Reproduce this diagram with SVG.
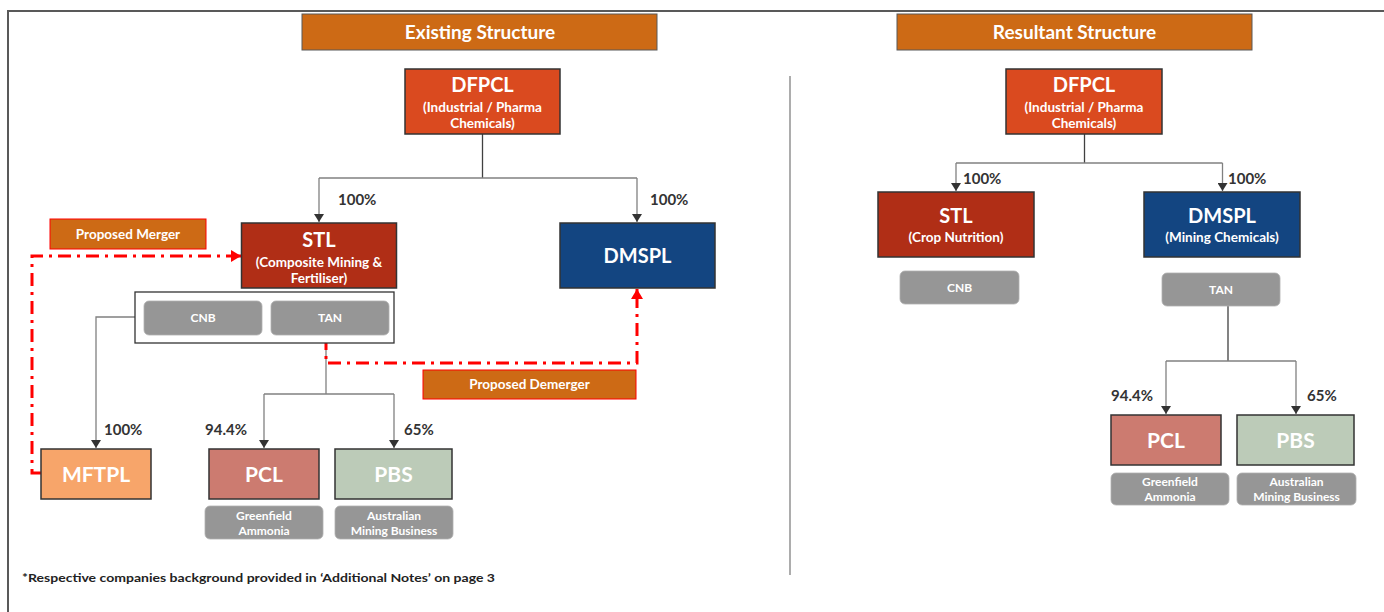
<svg xmlns="http://www.w3.org/2000/svg" width="1384" height="612" viewBox="0 0 1384 612">
<defs>
<style>
text{font-family:Lato,"Open Sans","Liberation Sans",sans-serif;font-weight:700}
.w{fill:#fff;text-anchor:middle}
.hdr{fill:#CD6A15;stroke:#595959;stroke-width:1}
.box{stroke:#333;stroke-width:1.5}
.gray{fill:#969696;stroke:#b0b0b0;stroke-width:0.8}
.pct{fill:#333;font-size:15px}
.ln{fill:none;stroke:#808080;stroke-width:1.3}
.dk{fill:none;stroke:#404040;stroke-width:1.3}
.red{fill:none;stroke:#FF0000;stroke-width:3;stroke-dasharray:13 6 3 6}
.tag{fill:#CD6A15;stroke:#FF0000;stroke-width:1}
.sub{font-size:13.5px}
.sm{font-size:12px}
</style>
<marker id="ah" markerWidth="8" markerHeight="10" refX="8" refY="5" orient="auto" markerUnits="userSpaceOnUse"><path d="M0,0 L8,5 L0,10 Z" fill="#333"/></marker>
<marker id="rah" markerWidth="10" markerHeight="12" refX="10" refY="6" orient="auto" markerUnits="userSpaceOnUse"><path d="M0,0 L10,6 L0,12 Z" fill="#FF0000"/></marker>
</defs>
<rect width="1384" height="612" fill="#fff"/>
<path d="M8,612 V11 H1384" fill="none" stroke="#595959" stroke-width="2"/>
<line x1="790" y1="76" x2="790" y2="575" stroke="#808080" stroke-width="1.3"/>

<g id="hdr-existing"><rect class="hdr" x="302" y="14" width="355" height="36"/><text class="w" x="480" y="39" font-size="19">Existing Structure</text></g>
<g id="hdr-resultant"><rect class="hdr" x="897" y="14" width="355" height="36"/><text class="w" x="1074.5" y="39" font-size="19">Resultant Structure</text></g>

<g id="connectors">
<path class="dk" d="M482.5,134 V178"/>
<path class="ln" d="M319,178 H637"/>
<path class="ln" d="M319,178 V222" marker-end="url(#ah)"/>
<path class="ln" d="M637,178 V222" marker-end="url(#ah)"/>
<path class="ln" d="M135,317 H96 V448" marker-end="url(#ah)"/>
<path class="ln" d="M326,343 V394"/>
<path class="ln" d="M264,394 H394"/>
<path class="ln" d="M264,394 V448" marker-end="url(#ah)"/>
<path class="ln" d="M394,394 V448" marker-end="url(#ah)"/>
<path class="red" d="M41,473 H32 V256 H230"/>
<path d="M230,256 H241" stroke="#FF0000" stroke-width="3" marker-end="url(#rah)"/>
<path class="red" d="M326,337 V363 H637 V300"/>
<path d="M637,300 V289" stroke="#FF0000" stroke-width="3" marker-end="url(#rah)"/>
<path class="dk" d="M1084.5,134 V163"/>
<path class="ln" d="M956,163 H1222.5"/>
<path class="ln" d="M956,163 V191" marker-end="url(#ah)"/>
<path class="ln" d="M1222.5,163 V191" marker-end="url(#ah)"/>
<path class="dk" d="M1228,306 V361"/>
<path class="ln" d="M1166,361 H1296"/>
<path class="ln" d="M1166,361 V414" marker-end="url(#ah)"/>
<path class="ln" d="M1296,361 V414" marker-end="url(#ah)"/>
</g>

<g id="pct-labels">
<text class="pct" x="338" y="205">100%</text>
<text class="pct" x="650" y="205">100%</text>
<text class="pct" x="104" y="435">100%</text>
<text class="pct" x="205" y="435">94.4%</text>
<text class="pct" x="404" y="435">65%</text>
<text class="pct" x="963" y="184">100%</text>
<text class="pct" x="1228" y="184">100%</text>
<text class="pct" x="1111" y="401">94.4%</text>
<text class="pct" x="1307" y="401">65%</text>
</g>

<g id="dfpcl-existing"><rect class="box" x="405" y="69" width="155" height="65" fill="#DA4A1F"/>
<text class="w" x="482.5" y="92" font-size="20">DFPCL</text>
<text class="w sub" x="482.5" y="112">(Industrial / Pharma</text>
<text class="w sub" x="482.5" y="128">Chemicals)</text></g>

<g id="stl-existing"><rect class="box" x="241.5" y="223" width="155" height="65" fill="#B02E16"/>
<text class="w" x="319" y="247" font-size="20">STL</text>
<text class="w sub" x="319" y="266.5">(Composite Mining &amp;</text>
<text class="w sub" x="319" y="282.5">Fertiliser)</text></g>

<g id="dmspl-existing"><rect class="box" x="560" y="223" width="155" height="65" fill="#134581"/>
<text class="w" x="637.5" y="263" font-size="20">DMSPL</text></g>

<g id="proposed-merger"><rect class="tag" x="50" y="219" width="156" height="30"/><text class="w sub" x="128" y="238.5">Proposed Merger</text></g>
<g id="proposed-demerger"><rect class="tag" x="423" y="370" width="213" height="29"/><text class="w sub" x="529.5" y="389">Proposed Demerger</text></g>

<g id="cnb-tan-existing"><rect x="135" y="292" width="259" height="51" fill="#fff" stroke="#333" stroke-width="1.3"/>
<g id="cnb-existing"><rect class="gray" x="144" y="301" width="118" height="34" rx="5"/><text class="w sm" x="203" y="322">CNB</text></g>
<g id="tan-existing"><rect class="gray" x="271" y="301" width="118" height="34" rx="5"/><text class="w sm" x="330" y="322">TAN</text></g></g>

<g id="mftpl"><rect class="box" x="41" y="449" width="110" height="50" fill="#F7A56A"/><text class="w" x="96" y="482" font-size="21">MFTPL</text></g>
<g id="pcl-existing"><rect class="box" x="209" y="449" width="110" height="50" fill="#CC7B70"/><text class="w" x="264" y="482" font-size="21">PCL</text></g>
<g id="pbs-existing"><rect class="box" x="335" y="449" width="117" height="50" fill="#BCCBB8"/><text class="w" x="393.5" y="482" font-size="21">PBS</text></g>
<g id="greenfield-existing"><rect class="gray" x="205" y="506" width="118" height="33" rx="5"/><text class="w sm" x="264" y="519.5">Greenfield</text><text class="w sm" x="264" y="535">Ammonia</text></g>
<g id="australian-existing"><rect class="gray" x="335" y="506" width="118" height="33" rx="5"/><text class="w sm" x="394" y="519.5">Australian</text><text class="w sm" x="394" y="535">Mining Business</text></g>

<text x="22" y="582" font-size="12" fill="#222" textLength="473" lengthAdjust="spacingAndGlyphs">*Respective companies background provided in ‘Additional Notes’ on page 3</text>

<g id="dfpcl-resultant"><rect class="box" x="1006" y="69" width="156" height="65" fill="#DA4A1F"/>
<text class="w" x="1084" y="92" font-size="20">DFPCL</text>
<text class="w sub" x="1084" y="112">(Industrial / Pharma</text>
<text class="w sub" x="1084" y="128">Chemicals)</text></g>
<g id="stl-resultant"><rect class="box" x="878" y="192" width="156" height="65" fill="#B02E16"/>
<text class="w" x="956" y="223" font-size="20">STL</text>
<text class="w sub" x="956" y="242">(Crop Nutrition)</text></g>
<g id="dmspl-resultant"><rect class="box" x="1144" y="192" width="156" height="65" fill="#134581"/>
<text class="w" x="1222" y="223" font-size="20">DMSPL</text>
<text class="w sub" x="1222" y="242">(Mining Chemicals)</text></g>
<g id="cnb-resultant"><rect class="gray" x="900" y="271" width="119" height="33" rx="5"/><text class="w sm" x="959.5" y="292">CNB</text></g>
<g id="tan-resultant"><rect class="gray" x="1162" y="273" width="118" height="33" rx="5"/><text class="w sm" x="1221" y="294">TAN</text></g>
<g id="pcl-resultant"><rect class="box" x="1111" y="415" width="110" height="50" fill="#CC7B70"/><text class="w" x="1166" y="448" font-size="21">PCL</text></g>
<g id="pbs-resultant"><rect class="box" x="1237" y="415" width="117" height="50" fill="#BCCBB8"/><text class="w" x="1295.5" y="448" font-size="21">PBS</text></g>
<g id="greenfield-resultant"><rect class="gray" x="1111" y="473" width="118" height="32" rx="5"/><text class="w sm" x="1170" y="486">Greenfield</text><text class="w sm" x="1170" y="501">Ammonia</text></g>
<g id="australian-resultant"><rect class="gray" x="1237" y="473" width="119" height="32" rx="5"/><text class="w sm" x="1296.5" y="486">Australian</text><text class="w sm" x="1296.5" y="501">Mining Business</text></g>
</svg>
